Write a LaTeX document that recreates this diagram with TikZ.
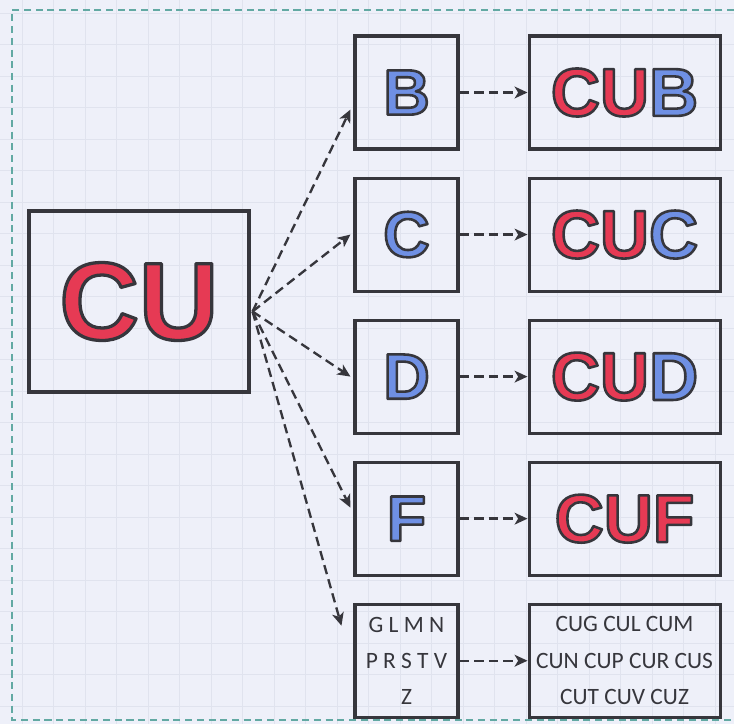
\documentclass[tikz,border=0pt]{standalone}
\usepackage{fontspec}
\usepackage{xcolor}
\usetikzlibrary{arrows.meta,positioning}
\newfontfamily\blockfont{Liberation Sans}
\newfontfamily\notefont{Carlito}
\definecolor{paper}{HTML}{EEF0F9}
\definecolor{gridline}{HTML}{E0E3EE}
\definecolor{margin}{HTML}{62A9A3}
\definecolor{ink}{HTML}{36363C}
\definecolor{crayonred}{HTML}{E63A54}
\definecolor{crayonblue}{HTML}{6F90E4}
% coloured letters with a dark outline (fill + stroke)
\newcommand{\crayon}[3][2.2]{\textcolor{#2}{\special{pdf:literal direct 0.212 0.212 0.235 RG #1 w 1 j 2 Tr}#3\special{pdf:literal direct 0 Tr}}}

\begin{document}
\begin{tikzpicture}[x=0.03cm, y=-0.03cm,
box/.style={rectangle, draw=ink, line width=2.6pt, inner sep=0pt},
smallbox/.style={box, minimum width=3.09cm, minimum height=3.39cm},
widebox/.style={box, minimum width=5.73cm, minimum height=3.39cm},
letter/.style={font=\blockfont\bfseries\fontsize{55}{55}\selectfont},
word/.style={font=\blockfont\bfseries\fontsize{58}{58}\selectfont},
note/.style={font=\notefont\fontsize{20}{31}\selectfont, text=ink, align=center},
link/.style={-{Stealth[length=11pt, width=10pt, inset=3pt]}, draw=ink, line width=2pt, dash pattern=on 8pt off 4.5pt},
]
\useasboundingbox (0,0) rectangle (734,724);
%Paper
\fill[paper] (0,0) rectangle (734,724);
\foreach \k in {0,...,22} {
  \draw[gridline, line width=0.6pt] (22+31.5*\k,0) -- (22+31.5*\k,724);
  \draw[gridline, line width=0.6pt] (0,13+31.5*\k) -- (734,13+31.5*\k);
}
\draw[margin, line width=1.3pt, dash pattern=on 6pt off 4pt] (734,10) -- (12,10) -- (12,720) -- (734,720);

%Nodes
\node[box, minimum width=6.6cm, minimum height=5.43cm, font=\blockfont\bfseries\fontsize{94}{94}\selectfont] (cu) at (139,301.5) {\crayon[2.8]{crayonred}{CU}};
\node[smallbox, letter] (b) at (406.5,92.5) {\crayon{crayonblue}{B}};
\node[smallbox, letter, below=0.78cm of b] (c) {\crayon{crayonblue}{C}};
\node[smallbox, letter, below=0.78cm of c] (d) {\crayon{crayonblue}{D}};
\node[smallbox, letter, below=0.78cm of d] (f) {\crayon{crayonblue}{F}};
\node[smallbox, note, below=0.78cm of f] (rest) {G L M N\\P R S T V\\Z};
\node[widebox, word, right=2.04cm of b] (cub) {\crayon{crayonred}{CU}\crayon{crayonblue}{B}};
\node[widebox, word, right=2.04cm of c] (cuc) {\crayon{crayonred}{CU}\crayon{crayonblue}{C}};
\node[widebox, word, right=2.04cm of d] (cud) {\crayon{crayonred}{CU}\crayon{crayonblue}{D}};
\node[widebox, word, right=2.04cm of f] (cuf) {\crayon{crayonred}{CUF}};
\node[widebox, note, right=2.04cm of rest] (curest) {CUG CUL CUM\\CUN CUP CUR CUS\\CUT CUV CUZ};
\coordinate (src) at ([shift={(2,10)}]cu.east);

%Lines
\draw[link] (src) -- ([shift={(-3,17)}]b.west);
\draw[link] (src) -- ([shift={(-3,0)}]c.west);
\draw[link] (src) -- ([shift={(-3,0)}]d.west);
\draw[link] (src) -- ([shift={(-3,-11)}]f.west);
\draw[link] (src) -- ([shift={(-12,-35)}]rest.west);
\draw[link] (b.east) -- (cub.west);
\draw[link] (c.east) -- (cuc.west);
\draw[link] (d.east) -- (cud.west);
\draw[link] (f.east) -- (cuf.west);
\draw[link] (rest.east) -- (curest.west);

\end{tikzpicture}
\end{document}
